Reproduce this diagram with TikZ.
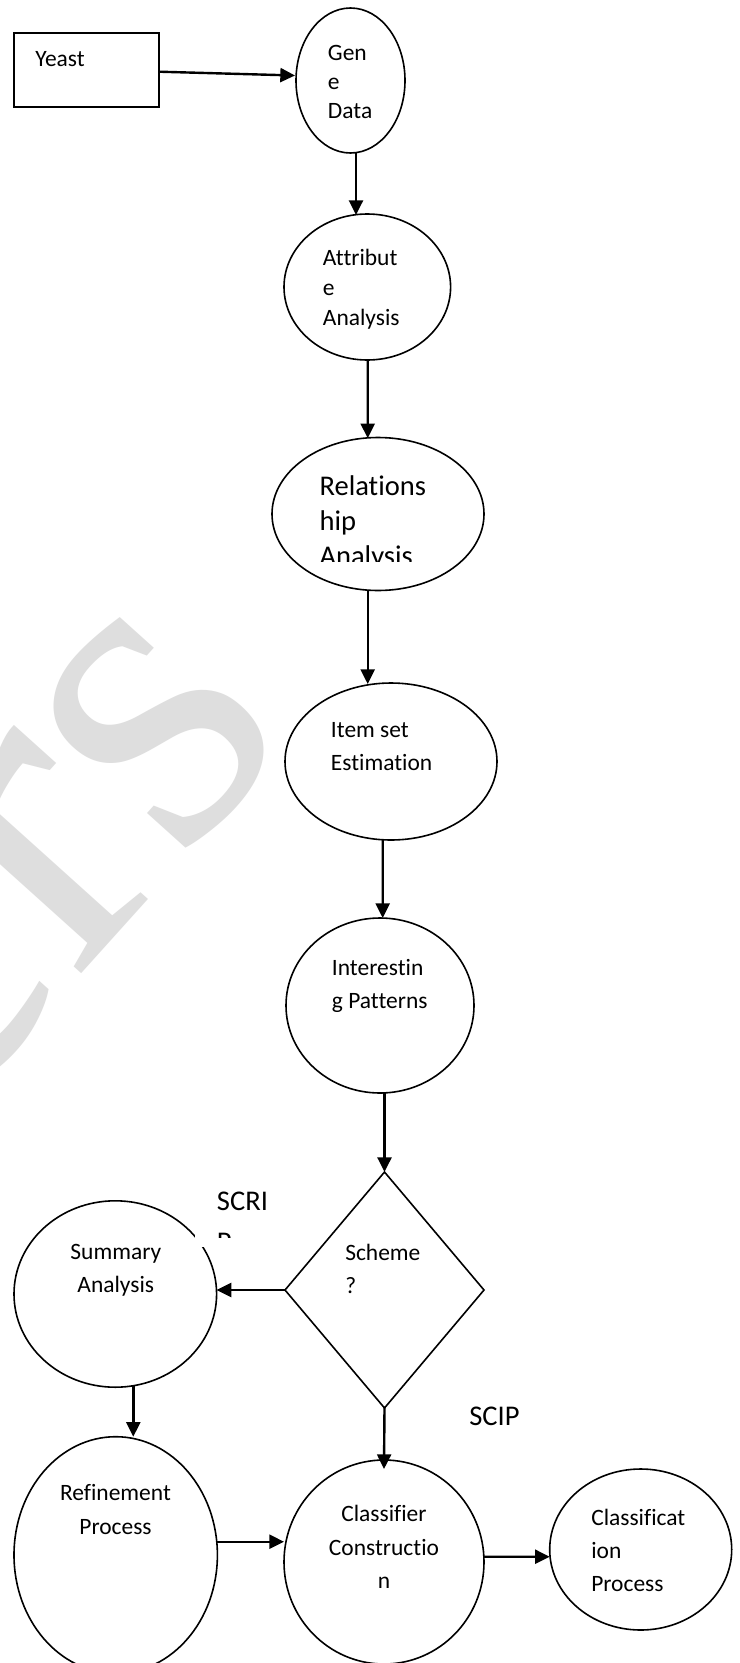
\documentclass[tikz,border=0pt]{standalone}
\usepackage{fontspec}
\setmainfont[Ligatures=NoCommon]{Carlito}
\newfontfamily\wmfont{Liberation Serif}
\usetikzlibrary{shapes.geometric,arrows.meta,calc}
\newdimen\px \px=0.75pt
\newcommand{\linesL}[1]{\begin{tabular}[t]{@{}l@{}}#1\end{tabular}}
\newcommand{\linesC}[1]{\begin{tabular}[t]{@{}c@{}}#1\end{tabular}}
\definecolor{wm}{RGB}{222,222,222}
\begin{document}
\begin{tikzpicture}[x=0.75pt,y=-0.75pt,
  shapeline/.style={draw=black, line width=1.2pt},
  oval/.style={shapeline, ellipse, inner sep=0pt, outer sep=0pt},
  conn/.style={line width=1.8pt, -{Triangle[length=11pt,width=10.5pt]}},
  txt/.style={inner sep=0pt, font=\fontsize{17.6}{22}\selectfont},
  bigtxt/.style={inner sep=0pt, font=\fontsize{21.4}{26.25}\selectfont},
]
\useasboundingbox (0,0) rectangle (739,1663);
\fill[white] (0,0) rectangle (739,1663);
\clip (0,0) rectangle (739,1663);

% watermark
\node[inner sep=0pt, text=wm, rotate=48, anchor=base east, font=\wmfont\fontsize{344}{344}\selectfont] (wmark) at (297,734) {ers};

% shapes
\node[shapeline, rectangle, inner sep=0pt, outer sep=0pt, minimum width=145\px, minimum height=74\px] (yeast) at (86.5,70) {};
\node[oval, minimum width=109\px, minimum height=145\px] (gene) at (350.5,80.5) {};
\node[oval, minimum width=166.6\px, minimum height=146\px] (attr) at (367.3,287) {};
\node[oval, minimum width=212\px, minimum height=153\px] (rel) at (378,514) {};
\node[oval, minimum width=212\px, minimum height=157\px] (item) at (391,761.5) {};
\node[oval, minimum width=188\px, minimum height=175\px] (int) at (380,1005.5) {};
\node[shapeline, diamond, inner sep=0pt, outer sep=0pt, minimum width=199\px, minimum height=236\px] (dia) at (384.5,1290) {};
\node[oval, minimum width=202.6\px, minimum height=186.4\px] (summ) at (115.3,1294) {};
\node[oval, minimum width=203.4\px, minimum height=236.6\px] (ref) at (115.7,1555) {};
\node[oval, minimum width=200\px, minimum height=204\px] (clsf) at (384,1562) {};
\node[oval, minimum width=182\px, minimum height=161\px] (cls2) at (640.7,1549.5) {};

% connectors
\draw[conn] ($(yeast.east)+(0,1.7)$) -- ($(gene.west)+(-1,-5)$);
\draw[conn] ($(gene.south)+(5.5,0)$) -- ($(attr.north)+(-11.3,1)$);
\draw[conn] ($(attr.south)+(0.4,0)$) -- ($(rel.north)+(-10.3,0.7)$);
\draw[conn] ($(rel.south)+(-10.3,-0.7)$) -- ($(item.north)+(-23.3,1)$);
\draw[conn] ($(item.south)+(-8.3,-0.5)$) -- ($(int.north)+(2.7,0)$);
\draw[conn] (int.south -| dia.north) -- (dia.north);
\draw[conn] (dia.west) -- (dia.west -| summ.east);
\draw[conn] ($(summ.south)+(18,-1.5)$) -- ($(ref.north)+(17.6,0)$);
\draw[conn] ($(ref.east)+(0,-13.3)$) -- ($(clsf.west)+(0,-20.3)$);
\draw[conn] (dia.south) -- ($(clsf.north)+(0,9)$);
\draw[conn] ($(clsf.east)+(0,-5.3)$) -- ($(cls2.west)+(0,7.2)$);

% texts
\node[txt, anchor=base west] (yeastT) at (35,66.7) {Yeast};
\node[txt, anchor=base west, font=\fontsize{17.6}{21.9}\selectfont] (geneT) at (327.7,60) {\linesL{Gen\\e\\Data}};
\node[txt, anchor=base west, font=\fontsize{17.6}{22.3}\selectfont] (attrT) at (322.7,265.7) {\linesL{Attribut\\e\\Analysis}};
\begin{scope}
\clip (300,430) rectangle (480,561);
\node[bigtxt, anchor=base west] (relT) at (319.3,495) {\linesL{Relations\\hip\\Analysis}};
\end{scope}
\node[txt, anchor=base west, font=\fontsize{17.6}{25.3}\selectfont] (itemT) at (330.7,737) {\linesL{Item set\\Estimation}};
\node[txt, anchor=base west, font=\fontsize{17.6}{25}\selectfont] (intT) at (331.7,975) {\linesL{Interestin\\g Patterns}};
\node[txt, anchor=base west, font=\fontsize{17.6}{24.75}\selectfont] (diaT) at (345,1260) {\linesL{Scheme\\?}};
\node[txt, anchor=base, font=\fontsize{17.6}{25.3}\selectfont] (summT) at (115.8,1259) {\linesC{Summary\\Analysis}};
\node[txt, anchor=base, font=\fontsize{17.6}{25.7}\selectfont] (refT) at (115.5,1500.7) {\linesC{Refinement\\Process}};
\node[txt, anchor=base, font=\fontsize{17.6}{25}\selectfont] (clsfT) at (384,1521.7) {\linesC{Classifier\\Constructio\\n}};
\node[txt, anchor=base west, font=\fontsize{17.6}{25.1}\selectfont] (cls2T) at (591,1525) {\linesL{Classificat\\ion\\Process}};

% SCRIP label box
\fill[white] (195,1183) rectangle (290,1247);
\begin{scope}
\clip (195,1183) rectangle (290,1237.5);
\node[bigtxt, anchor=base west, font=\fontsize{21.4}{30.75}\selectfont] (scriT) at (216.7,1210) {\linesL{SCRI\\P}};
\end{scope}
\node[bigtxt, anchor=base west] (scipT) at (469,1425) {SCIP};
\end{tikzpicture}
\end{document}
